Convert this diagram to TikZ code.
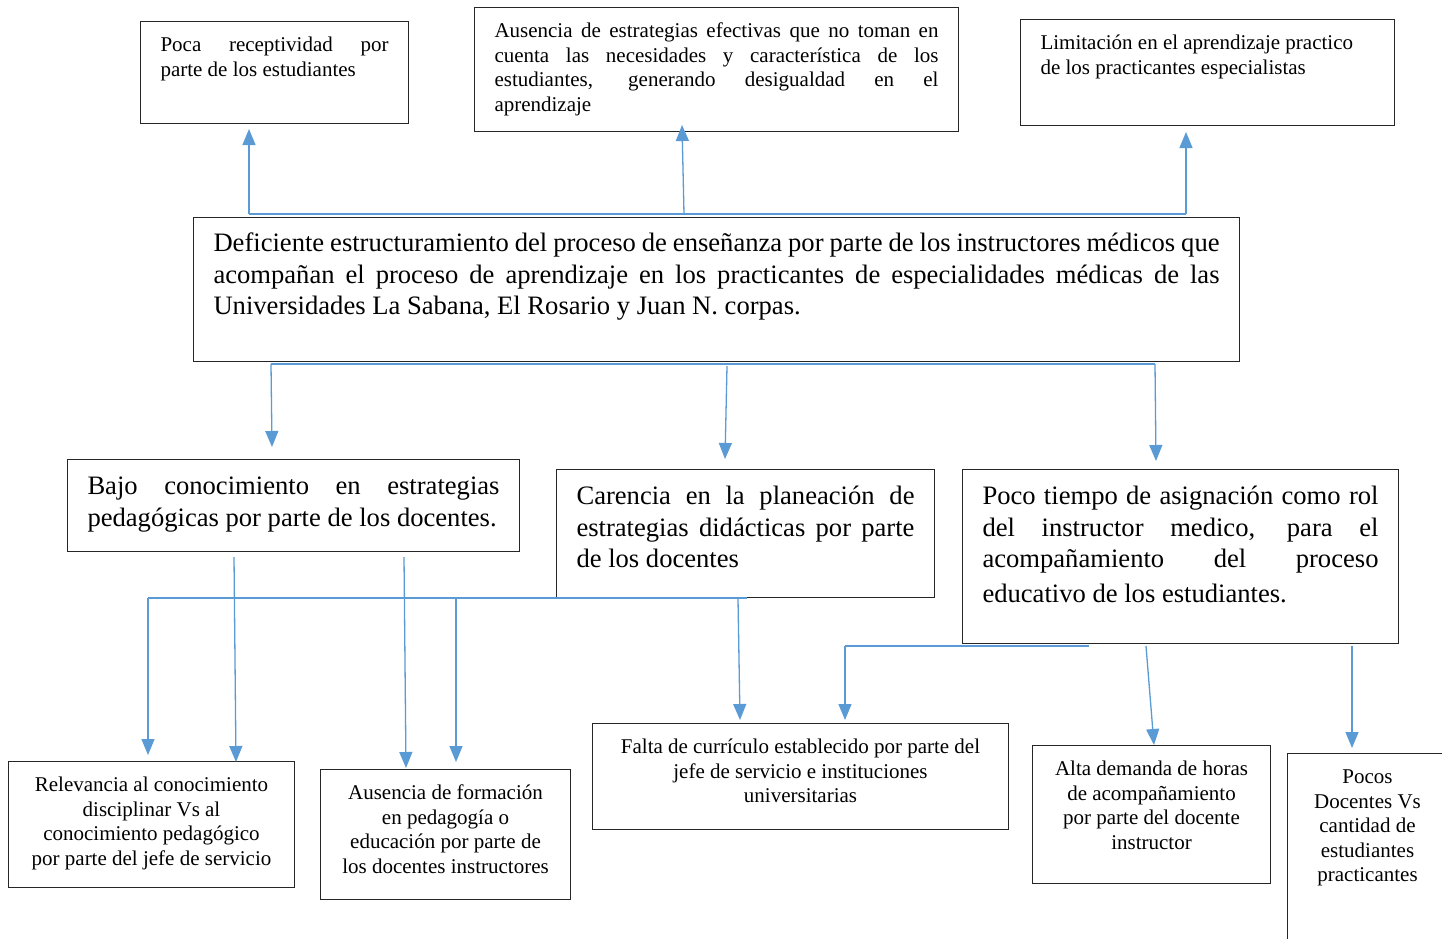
\documentclass[tikz,border=0pt]{standalone}
\usepackage{fontspec}
\setmainfont{Liberation Serif}
\usetikzlibrary{arrows.meta,calc}
\definecolor{conn}{HTML}{5B9BD5}
\newcommand\fsmall{\fontsize{21pt}{24.5pt}\selectfont\hyphenpenalty=10000\tolerance=10000\relax}
\newcommand\flarge{\fontsize{26.6pt}{31.5pt}\selectfont\hyphenpenalty=10000\tolerance=10000\relax}
\tikzset{
  pbox/.style 2 args={draw=black!85, line width=1pt, rectangle, anchor=north west,
    inner xsep=20pt, inner ysep=0pt, text height=#1pt, text depth=#2pt},
  ln/.style={draw=conn, line width=1.3pt},
  arr/.style={ln, -{Triangle[length=16pt,width=13pt]}},
}
\begin{document}
\begin{tikzpicture}[x=1pt,y=-1pt]
\clip (0,0) rectangle (1442,938);
\fill[white] (0,0) rectangle (1442,938);

% top effects
\node[pbox={30}{72}, font=\fsmall] (p1) at (140,21)
  {\parbox[t]{228pt}{Poca receptividad por\linebreak parte de los estudiantes}};
\node[pbox={30}{94}, font=\fsmall] (p2) at (474,7)
  {\parbox[t]{444pt}{Ausencia de estrategias efectivas que no toman en\linebreak cuenta las necesidades y característica de los\linebreak estudiantes, generando desigualdad en el\linebreak aprendizaje}};
\node[pbox={30}{76}, font=\fsmall] (p3) at (1020,19)
  {\parbox[t]{334pt}{\raggedright Limitación en el aprendizaje practico\\ de los practicantes especialistas}};

% main problem
\node[pbox={34}{110}, font=\flarge] (main) at (193,217)
  {\parbox[t]{1006pt}{Deficiente estructuramiento del proceso de enseñanza por parte de los instructores médicos que\linebreak acompañan el proceso de aprendizaje en los practicantes de especialidades médicas de las\linebreak Universidades La Sabana, El Rosario y Juan N. corpas.}};

% causes
\node[pbox={35}{57}, font=\flarge] (p4) at (67,459)
  {\parbox[t]{412pt}{Bajo conocimiento en estrategias\linebreak pedagógicas por parte de los docentes.}};
\node[pbox={35}{93}, font=\flarge] (p5) at (556,469)
  {\parbox[t]{338pt}{Carencia en la planeación de\linebreak estrategias didácticas por parte\linebreak de los docentes}};
\node[pbox={35}{139}, font=\flarge] (p6) at (962,469)
  {\parbox[t]{396pt}{Poco tiempo de asignación como rol\linebreak del instructor medico, para el\linebreak acompañamiento del proceso\vspace{3.5pt}\linebreak educativo de los estudiantes.}};

% sub causes
\node[pbox={30}{96}, font=\fsmall] (p7) at (8,761)
  {\parbox[t]{246pt}{\centering Relevancia al conocimiento\\ disciplinar Vs al\\ conocimiento pedagógico\\ por parte del jefe de servicio}};
\node[pbox={30}{100}, font=\fsmall] (p8) at (320,769)
  {\parbox[t]{210pt}{\centering Ausencia de formación\\ en pedagogía o\\ educación por parte de\\ los docentes instructores}};
\node[pbox={30}{76}, font=\fsmall] (p9) at (592,723)
  {\parbox[t]{376pt}{\centering Falta de currículo establecido por parte del\\ jefe de servicio e instituciones\\ universitarias}};
\node[pbox={30}{108}, font=\fsmall] (p10) at (1032,745)
  {\parbox[t]{198pt}{\centering Alta demanda de horas\\ de acompañamiento\\ por parte del docente\\ instructor}};
\node[pbox={30}{170}, font=\fsmall] (p11) at (1287,753)
  {\parbox[t]{120pt}{\centering Pocos\\ Docentes Vs\\ cantidad de\\ estudiantes\\ practicantes}};

% connectors: main -> effects
\draw[ln] ($(main.north west)+(56,-3)$) -- ($(main.north west)+(993,-3)$);
\draw[arr] ($(main.north west)+(56,-3)$) -- ($(p1.south west)+(109,5)$);
\draw[arr] ($(main.north west)+(491,-3)$) -- ($(p2.south west)+(208,-7)$);
\draw[arr] ($(main.north west)+(993,-3)$) -- ($(p3.south west)+(166,6)$);

% connectors: main -> causes
\draw[ln] ($(main.south west)+(78,2)$) -- ($(main.south west)+(962,2)$);
\draw[arr] ($(main.south west)+(78,2)$) -- ($(p4.north west)+(205,-12)$);
\draw[arr] ($(main.south west)+(534,4)$) -- ($(p5.north west)+(169,-10)$);
\draw[arr] ($(main.south west)+(962,2)$) -- ($(p6.north west)+(194,-8)$);

% connectors: p4 -> sub causes
\draw[arr] ($(p4.south west)+(167,5)$) -- ($(p7.north west)+(228,1)$);
\draw[arr] ($(p4.south west)+(337,5)$) -- ($(p8.north west)+(86,-1)$);

% connectors: p5 -> sub causes
\draw[ln] ($(p5.south west)+(-408,0)$) -- ($(p5.south west)+(191,0)$);
\draw[arr] ($(p5.south west)+(-408,0)$) -- ($(p7.north west)+(140,-6)$);
\draw[arr] ($(p5.south west)+(-100,0)$) -- ($(p8.north west)+(136,-7)$);
\draw[arr] ($(p5.south west)+(182,1)$) -- ($(p9.north west)+(148,-3)$);

% connectors: p6 -> sub causes
\draw[ln] ($(p6.south west)+(-117,2)$) -- ($(p6.south west)+(127,2)$);
\draw[arr] ($(p6.south west)+(-117,2)$) -- ($(p9.north west)+(253,-3)$);
\draw[arr] ($(p6.south west)+(184,2)$) -- ($(p10.north west)+(122,0)$);
\draw[arr] ($(p6.south west)+(390,2)$) -- ($(p11.north west)+(65,-5)$);
\end{tikzpicture}
\end{document}
